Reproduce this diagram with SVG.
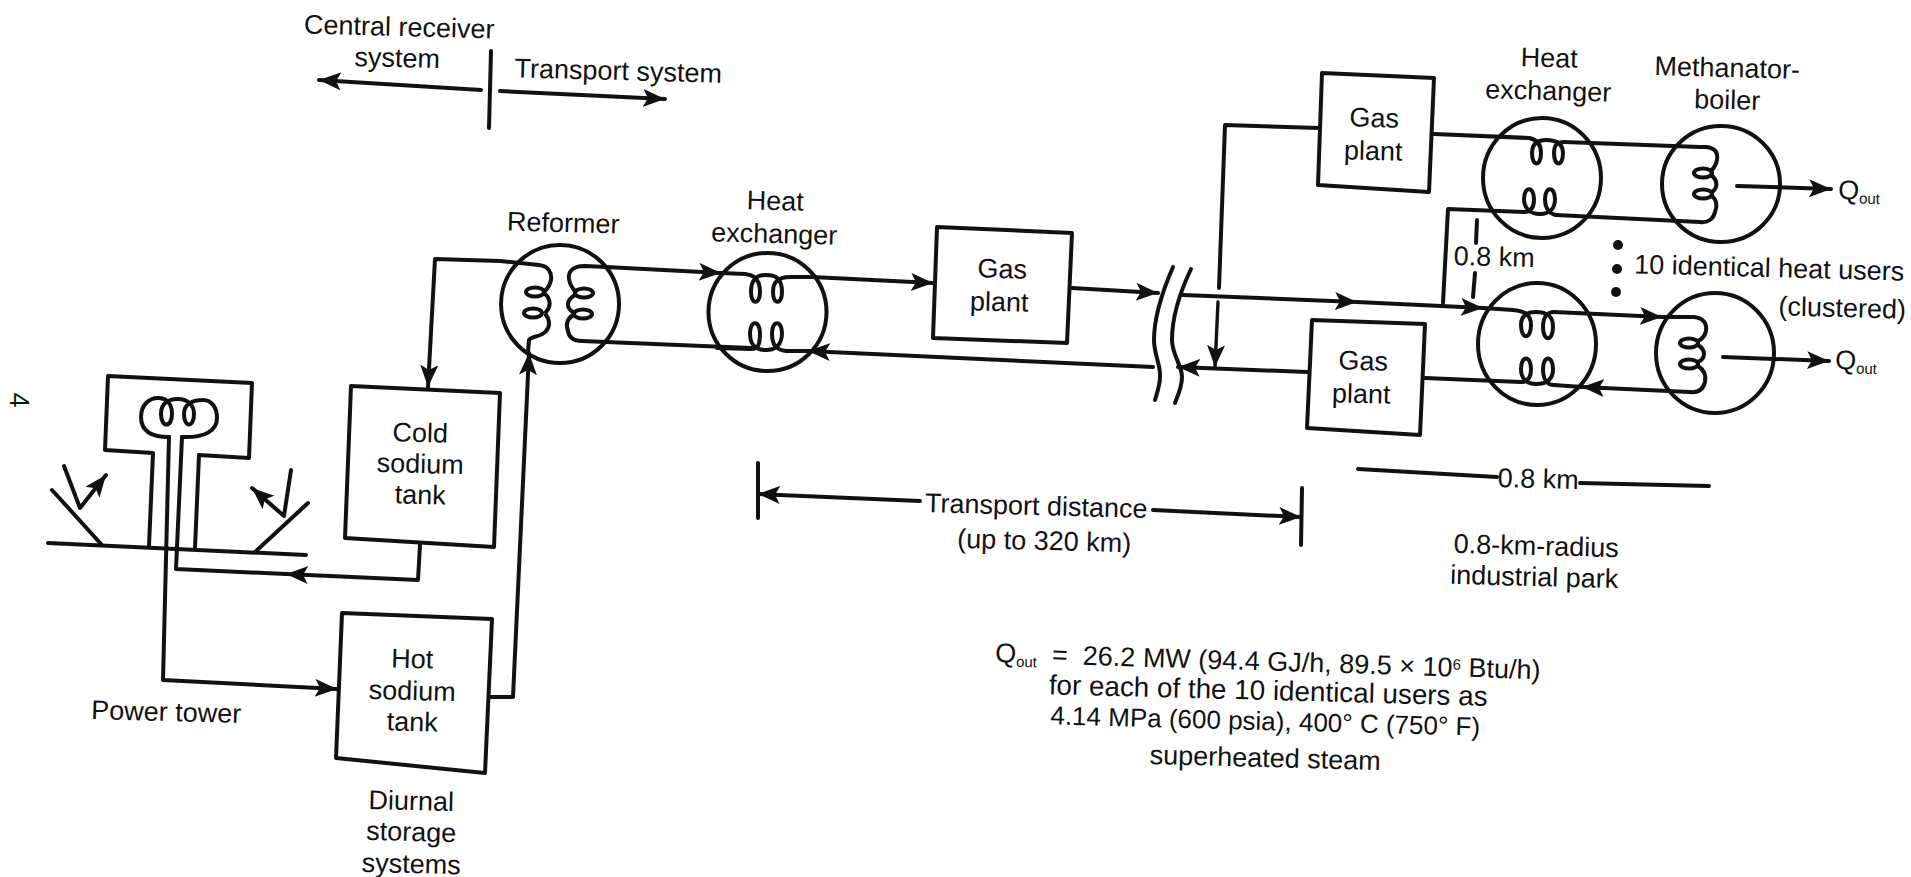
<svg xmlns="http://www.w3.org/2000/svg" width="1911" height="877" viewBox="0 0 1911 877">
<style>
text{font-family:"Liberation Sans",Arial,sans-serif;font-size:27px;fill:#111;text-anchor:middle}
.l{text-anchor:start}
path,ellipse,polygon{fill:none;stroke:#111;stroke-width:4;stroke-linejoin:round;stroke-linecap:round}
.c{stroke-width:3.4}
.d{fill:#111;stroke:none}
.s{font-size:15px}
</style>
<defs>
<marker id="a" markerUnits="userSpaceOnUse" markerWidth="26" markerHeight="20" refX="22" refY="9" orient="auto"><path d="M0 0L22 9L0 18L5 9Z" style="fill:#111;stroke:none"/></marker>
</defs>
<rect width="1911" height="877" fill="#fff"/>
<g id="connectors">
<path d="M481 90L319 80" marker-end="url(#a)"/>
<path d="M500 91L665 99" marker-end="url(#a)"/>
<path d="M169 437L163 680L337 689" marker-end="url(#a)"/>
<path d="M420 545L418 580L286 574" marker-end="url(#a)"/>
<path d="M286 574L176 569L182 437"/>
<path d="M490 697L513 697L529 353" marker-end="url(#a)"/>
<path d="M500 261L435 259L428 387" marker-end="url(#a)"/>
<path d="M606 267L721 273" marker-end="url(#a)"/>
<path d="M812 277L933 283" marker-end="url(#a)"/>
<path d="M1072 288L1158 293" marker-end="url(#a)"/>
<path d="M1153 367L808 351" marker-end="url(#a)"/>
<path d="M751 348L606 342"/>
<path d="M1183 295L1357 302" marker-end="url(#a)"/>
<path d="M1357 302L1483 308" marker-end="url(#a)"/>
<path d="M1554 312L1662 317" marker-end="url(#a)"/>
<path d="M1690 392L1582 387" marker-end="url(#a)"/>
<path d="M1582 387L1554 385M1521 382L1425 378"/>
<path d="M1307 372L1178 367" marker-end="url(#a)"/>
<path d="M1319 128L1225 125L1219 288"/>
<path d="M1218 302L1215 367" class="c" marker-end="url(#a)"/>
<path d="M1434 134L1529 138M1564 142L1700 147M1700 222L1556 215M1524 212L1448 209L1443 303"/>
<path d="M1737 186L1831 189" marker-end="url(#a)"/>
<path d="M1723 357L1829 361" marker-end="url(#a)"/>
<path d="M1477 220L1476 243M1475 273L1473 297"/>
<path d="M758 463L758 518M1302 488L1301 545"/>
<path d="M920 501L758 494" marker-end="url(#a)"/>
<path d="M1153 510L1301 517" marker-end="url(#a)"/>
<path d="M1358 469L1497 477M1580 483L1709 486"/>
<path d="M491 51L489 128"/>
<path d="M1173 267C1163 290 1154 315 1154 340C1154 355 1161 365 1160 377C1160 385 1157 393 1155 400"/>
<path d="M1191 269C1181 290 1172 315 1172 340C1172 355 1182 365 1182 377C1182 387 1178 395 1175 403"/>
</g>
<g id="power-tower">
<path d="M105 450L108 376L252 383L249 458L199 455L195 548M105 450L153 453L149 546"/>
<path d="M48 543L306 555"/>
<path d="M52 490L101 544M308 503L255 552"/>
<path d="M64 466L80 508L106 475" marker-end="url(#a)"/>
<path d="M291 470L284 516L252 488" marker-end="url(#a)"/>
<path d="M169 437C150 437 141 430 141 417C141 405 149 398 158 398C168 398 172 405 172 414C172 428 161 428 161 414C161 402 170 399 178 399C188 399 194 405 194 414C194 428 184 428 184 414C184 403 194 400 203 400C212 400 217 408 217 418C217 430 206 438 182 437"/>
</g>
<g id="cold-sodium-tank"><path d="M351 386L500 393L494 547L345 538Z"/><text transform="rotate(1.5 420 442)" x="420" y="442">Cold</text><text transform="rotate(1.5 420 473)" x="420" y="473">sodium</text><text transform="rotate(1.5 420 504)" x="420" y="504">tank</text></g>
<g id="hot-sodium-tank"><path d="M342 613L492 619L485 773L336 758Z"/><text transform="rotate(1.5 412 668)" x="412" y="668">Hot</text><text transform="rotate(1.5 412 700)" x="412" y="700">sodium</text><text transform="rotate(1.5 412 731)" x="412" y="731">tank</text></g>
<g id="reformer">
<ellipse cx="560" cy="304" rx="59" ry="59"/>
<path d="M500 261L539 265C548 266 552 272 551 280C550 285 548 288 545 291M545 294C551 299 551 307 546 312M546 315C550 320 550 327 546 331C542 337 531 336 529 340L528 352"/>
<ellipse cx="535" cy="292" rx="9" ry="4.5"/><ellipse cx="533" cy="313" rx="9" ry="4.5"/>
<path d="M606 267L585 266C572 266 568 272 569 279C570 285 572 288 575 291M575 295C566 300 566 308 573 312M573 315C566 320 566 326 568 331C569 338 574 341 582 341L606 342"/>
<ellipse cx="584" cy="293" rx="9" ry="4.5"/><ellipse cx="583" cy="314" rx="9" ry="4.5"/>
<text transform="rotate(1.5 563 232)" x="563" y="232">Reformer</text></g>
<g id="heat-exchanger-1">
<ellipse cx="767.5" cy="312" rx="59" ry="59"/>
<path d="M721 273L745 274C752 275 760 277 760 292C760 305 751 305 751 292C751 278 758 275 766 275C774 275 782 277 782 292C782 305 773 305 773 292C773 280 780 277 790 277L812 277"/>
<path d="M717 348L751 349C758 349 760 345 760 333C760 320 750 320 750 333C750 345 755 350 766 350C775 350 782 345 782 333C782 320 772 320 772 333C772 345 776 350 786 351L808 351"/>
<text transform="rotate(1.5 775 210)" x="775" y="210">Heat</text><text transform="rotate(1.5 774 243)" x="774" y="243">exchanger</text></g>
<g id="gas-plant-1"><path d="M937 227L1072 233L1067 343L933 338Z"/><text transform="rotate(1.5 1002 278)" x="1002" y="278">Gas</text><text transform="rotate(1.5 999 311)" x="999" y="311">plant</text></g>
<g id="gas-plant-2"><path d="M1322 73L1434 78L1429 192L1318 185Z"/><text transform="rotate(1.5 1374 127)" x="1374" y="127">Gas</text><text transform="rotate(1.5 1373 160)" x="1373" y="160">plant</text></g>
<g id="gas-plant-3"><path d="M1312 320L1425 324L1420 435L1307 428Z"/><text transform="rotate(1.5 1363 370)" x="1363" y="370">Gas</text><text transform="rotate(1.5 1361 403)" x="1361" y="403">plant</text></g>
<g id="heat-exchanger-2">
<ellipse cx="1542" cy="178" rx="59" ry="60"/>
<path d="M1529 138C1535 139 1541 142 1541 153C1541 167 1532 167 1532 153C1532 143 1538 140 1546 140C1556 140 1563 143 1563 153C1563 167 1554 167 1554 153C1554 144 1558 142 1564 142"/>
<path d="M1524 212C1530 212 1534 208 1534 199C1534 186 1524 186 1524 199C1524 208 1530 214 1540 214C1550 214 1555 208 1555 199C1555 186 1545 186 1545 199C1545 209 1550 214 1556 215"/>
<text transform="rotate(1.5 1549 67)" x="1549" y="67">Heat</text><text transform="rotate(1.5 1548 100)" x="1548" y="100">exchanger</text></g>
<g id="heat-exchanger-3">
<ellipse cx="1537" cy="344" rx="59" ry="61"/>
<path d="M1483 308L1513 310C1524 311 1531 314 1531 325C1531 340 1521 340 1521 325C1521 315 1528 312 1536 312C1546 312 1553 315 1553 327C1553 342 1543 342 1543 327C1543 316 1548 312 1554 312"/>
<path d="M1521 382C1527 382 1531 378 1531 369C1531 355 1521 355 1521 369C1521 378 1526 384 1536 384C1546 384 1553 380 1553 369C1553 355 1543 355 1543 369C1543 379 1547 385 1554 385"/>
</g>
<g id="methanator-boiler-1">
<ellipse cx="1721" cy="184" rx="59" ry="58"/>
<path d="M1700 147L1706 147C1716 148 1718 153 1717 160C1716 165 1714 168 1711 171M1711 175C1718 180 1718 188 1712 192M1712 196C1718 201 1717 207 1715 212C1713 220 1707 223 1700 222"/>
<ellipse cx="1703" cy="173" rx="9" ry="4.5"/><ellipse cx="1703" cy="194" rx="9" ry="4.5"/>
<text transform="rotate(1.5 1727 77)" x="1727" y="77">Methanator-</text><text transform="rotate(1.5 1727 109)" x="1727" y="109">boiler</text></g>
<g id="methanator-boiler-2">
<ellipse cx="1715" cy="353" rx="59" ry="60"/>
<path d="M1662 317L1694 317C1704 318 1707 324 1706 331C1705 336 1702 339 1698 341M1698 345C1706 350 1706 358 1698 362M1698 366C1706 371 1706 377 1705 382C1703 390 1698 393 1690 392"/>
<ellipse cx="1689" cy="343" rx="9" ry="4.5"/><ellipse cx="1689" cy="364" rx="9" ry="4.5"/>
</g>
<g id="dots"><circle class="d" cx="1618" cy="245" r="5"/><circle class="d" cx="1617" cy="269" r="5"/><circle class="d" cx="1616" cy="292" r="5"/></g>
<g id="labels">
<text transform="rotate(1.5 399 36)" x="399" y="36">Central receiver</text>
<text transform="rotate(1.5 397 67)" x="397" y="67">system</text>
<text transform="rotate(1.5 618 80)" x="618" y="80">Transport system</text>
<text transform="rotate(1.5 1494 266)" x="1494" y="266">0.8 km</text>
<text transform="rotate(1.5 1769 277)" x="1769" y="277">10 identical heat users</text>
<text transform="rotate(1.5 1842 317)" x="1842" y="317">(clustered)</text>
<text class="l" transform="rotate(1.5 1838 199)" x="1838" y="199">Q<tspan class="s" dy="4">out</tspan></text>
<text class="l" transform="rotate(1.5 1835 369)" x="1835" y="369">Q<tspan class="s" dy="4">out</tspan></text>
<text transform="rotate(1.5 1036 515)" x="1036" y="515">Transport distance</text>
<text transform="rotate(1.5 1044 550)" x="1044" y="550">(up to 320 km)</text>
<text transform="rotate(1.5 1538 488)" x="1538" y="488">0.8 km</text>
<text transform="rotate(1.5 1536 555)" x="1536" y="555">0.8-km-radius</text>
<text transform="rotate(1.5 1534 586)" x="1534" y="586">industrial park</text>
<text class="l" transform="rotate(1.8 995 662)" x="995" y="662">Q<tspan class="s" dy="4">out</tspan><tspan dy="-4" xml:space="preserve">  =  26.2 MW (94.4 GJ/h, 89.5 × 10</tspan><tspan class="s" dy="-7">6</tspan><tspan dy="7"> Btu/h)</tspan></text>
<text transform="rotate(1.5 1268 700)" x="1268" y="700" style="font-size:27.8px">for each of the 10 identical users as</text>
<text transform="rotate(1.5 1265 730)" x="1265" y="730" style="font-size:26px">4.14 MPa (600 psia), 400° C (750° F)</text>
<text transform="rotate(1.5 1265 767)" x="1265" y="767">superheated steam</text>
<text transform="rotate(1.5 166 721)" x="166" y="721">Power tower</text>
<text transform="rotate(1.5 411 810)" x="411" y="810">Diurnal</text>
<text transform="rotate(1.5 411 841)" x="411" y="841">storage</text>
<text transform="rotate(1.5 411 873)" x="411" y="873">systems</text>
<text transform="rotate(90 19 400)" x="19" y="409">4</text>
</g>
</svg>
